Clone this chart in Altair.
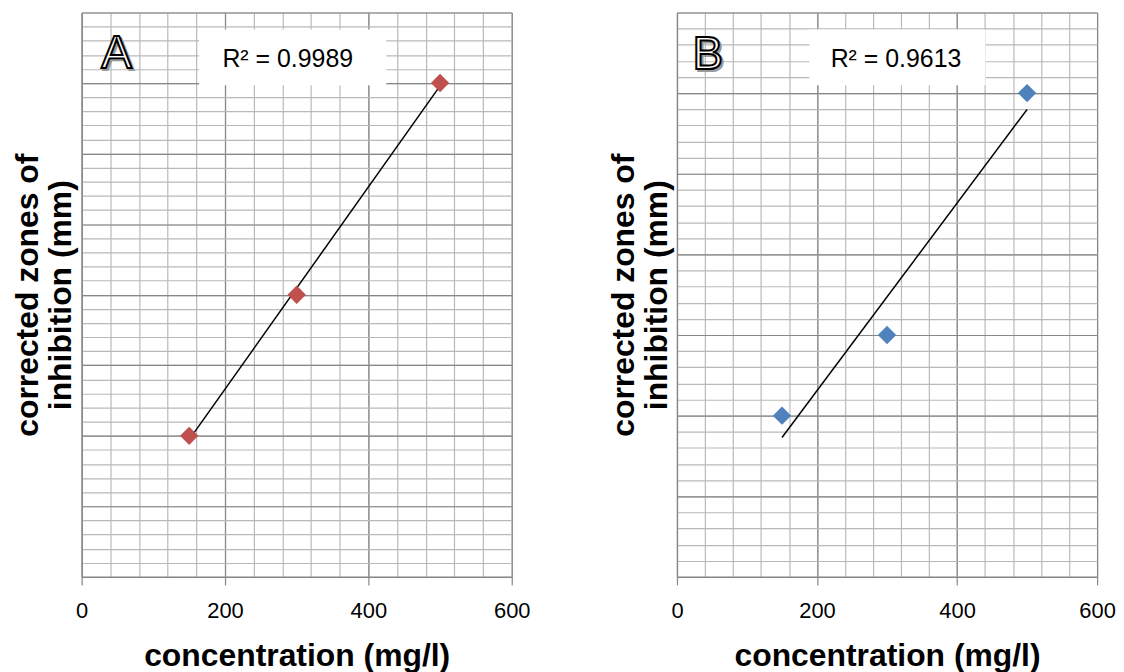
import altair as alt
import pandas as pd

# ---- data ----
conc = [150, 300, 500]                 # concentration (mg/l)
zone_a = [4, 8, 14]                    # panel A corrected zones (mm)
zone_b = [4, 6, 12]                    # panel B corrected zones (mm)
r2_a = ["R² = 0.9989"]
r2_b = ["R² = 0.9613"]
x_major = [0, 200, 400, 600]
x_minor = list(range(0, 601, 40))
ymax_a = 16
ymax_b = 14
y_major_a = list(range(0, ymax_a + 1, 2))
y_major_b = list(range(0, ymax_b + 1, 2))
y_minor_a = [i * 0.4 for i in range(int(ymax_a / 0.4) + 1)]
y_minor_b = [i * 0.4 for i in range(int(ymax_b / 0.4) + 1)]

MAJOR = "#878787"
MINOR = "#b9b9b9"
LABEL_FONT = "Liberation Sans"


def panel(ys, color, letter, r2, ymax, ymaj, ymin, w, h, box, r2x, letpos):
    df = pd.DataFrame({"c": conc, "z": ys})
    base = alt.Chart(df)
    xs = alt.Scale(domain=[0, 600], nice=False, zero=False)
    ysc = alt.Scale(domain=[0, ymax], nice=False, zero=False)

    minor = base.mark_point(opacity=0).encode(
        x=alt.X("c:Q", scale=xs, axis=alt.Axis(values=x_minor, grid=True, gridColor=MINOR,
                                               gridWidth=1.2, labels=False, ticks=False,
                                               domain=False, title=None, orient="top")),
        y=alt.Y("z:Q", scale=ysc, axis=alt.Axis(values=ymin, grid=True, gridColor=MINOR,
                                                gridWidth=1.2, labels=False, ticks=False,
                                                domain=False, title=None, orient="right")),
    )
    major = base.mark_point(opacity=0).encode(
        x=alt.X("c:Q", scale=xs, axis=alt.Axis(
            values=x_major, grid=True, gridColor=MAJOR, gridWidth=1.2, orient="bottom",
            domain=True, domainColor=MAJOR, domainWidth=1.2, ticks=True, tickColor=MAJOR,
            tickWidth=1.2, tickSize=8,
            labelFont=LABEL_FONT, labelFontSize=22, labelColor="black", labelPadding=16,
            labelFlush=False, labelOverlap=False, format="d",
            title="concentration (mg/l)", titleFont=LABEL_FONT, titleFontSize=32,
            titleFontWeight="bold", titleColor="black", titlePadding=19)),
        y=alt.Y("z:Q", scale=ysc, axis=alt.Axis(
            values=ymaj, grid=True, gridColor=MAJOR, gridWidth=1.2, orient="left",
            domain=True, domainColor=MAJOR, domainWidth=1.2, ticks=False, labels=False,
            title=["corrected zones of", "inhibition (mm)"], titleFont=LABEL_FONT,
            titleFontSize=32, titleFontWeight="bold", titleColor="black",
            titleLineHeight=33, titlePadding=4)),
    )
    trend = base.transform_regression("c", "z", extent=[150, 500]).mark_line(
        color="black", strokeWidth=1.5).encode(
        x=alt.X("c:Q", scale=xs, axis=None), y=alt.Y("z:Q", scale=ysc, axis=None))
    pts = base.mark_point(shape="diamond", filled=True, size=340, color=color,
                          opacity=1).encode(
        x=alt.X("c:Q", scale=xs, axis=None), y=alt.Y("z:Q", scale=ysc, axis=None))

    ann = alt.Chart(pd.DataFrame({"t": r2, "l": [letter]}))
    rect = ann.mark_rect(fill="white", stroke=None).encode(
        x=alt.value(box[0]), x2=alt.value(box[1]), y=alt.value(box[2]), y2=alt.value(box[3]))
    txt = ann.mark_text(font=LABEL_FONT, fontSize=25, color="black", align="center",
                        baseline="middle").encode(
        x=alt.value(r2x), y=alt.value(47), text="t:N")
    shadow = ann.mark_text(font=LABEL_FONT, fontSize=46, fill="#9a9a9a", stroke="#9a9a9a",
                           strokeWidth=2, align="center", baseline="middle",
                           dx=2, dy=2).encode(
        x=alt.value(letpos[0]), y=alt.value(letpos[1]), text="l:N")
    let = ann.mark_text(font=LABEL_FONT, fontSize=46, fill="white", stroke="black",
                        strokeWidth=2, align="center", baseline="middle").encode(
        x=alt.value(letpos[0]), y=alt.value(letpos[1]), text="l:N")

    return alt.layer(minor, major, trend, pts, rect, txt, shadow, let).resolve_axis(
        x="independent", y="independent").properties(width=w, height=h)


pa = panel(zone_a, "#c0504d", "A", r2_a, ymax_a, y_major_a, y_minor_a, 432, 567,
           (118, 306, 17, 73), 207, (35, 42))
pb = panel(zone_b, "#4f81bd", "B", r2_b, ymax_b, y_major_b, y_minor_b, 422, 567,
           (133, 310, 17, 73), 220, (31, 43))

chart = alt.hconcat(pa, pb, spacing=76).properties(
    padding={"top": 2, "left": 3, "right": 0, "bottom": 0}
).configure_view(stroke=MAJOR, strokeWidth=1.2).configure(background="white")

chart.save("out.html", embed_options={"renderer": "svg", "actions": False})
